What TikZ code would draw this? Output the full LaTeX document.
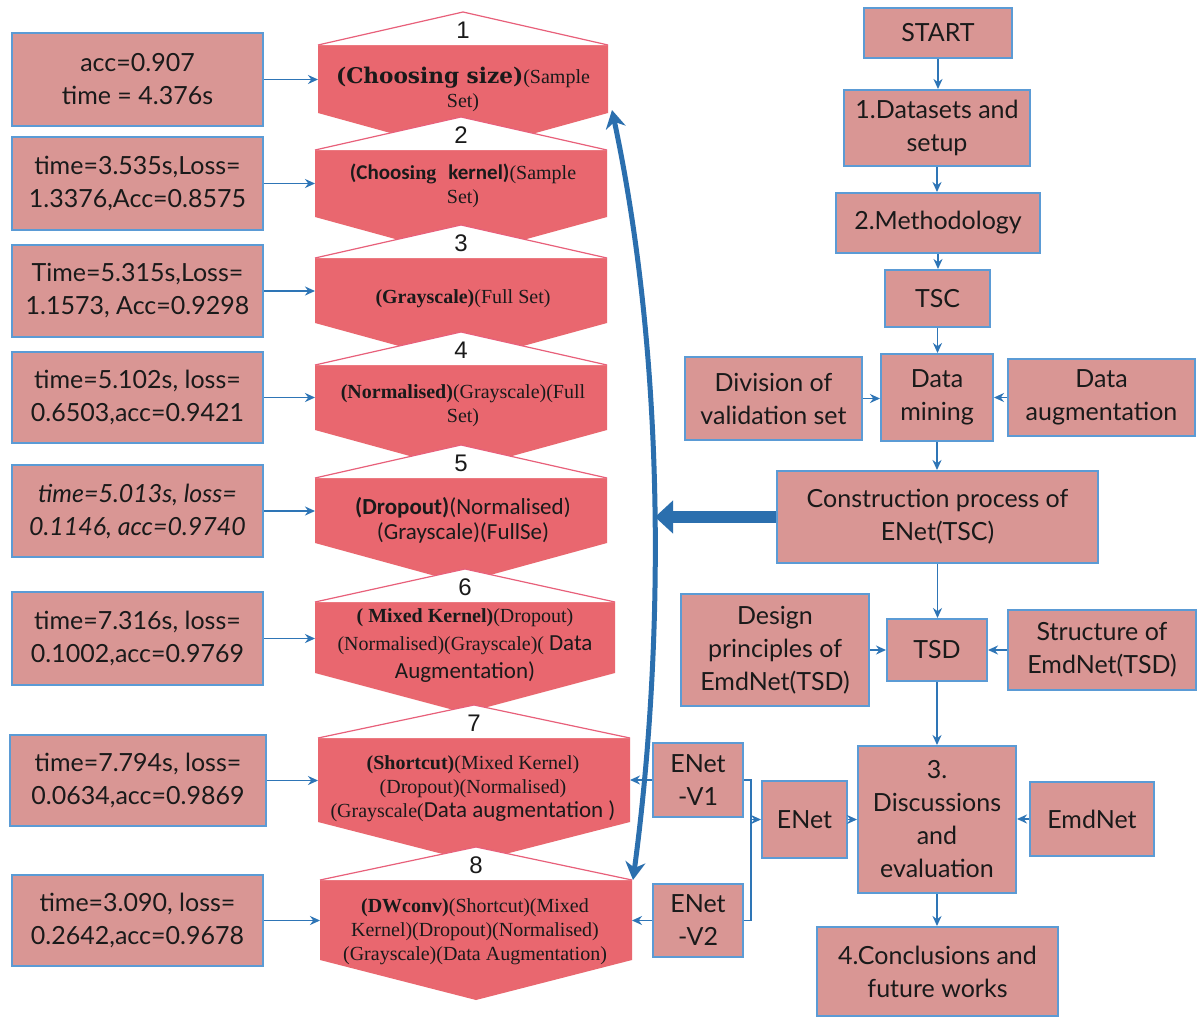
\documentclass[tikz,border=0pt]{standalone}
\usepackage{fontspec}
\setmainfont{Liberation Serif}
\newfontfamily\lato{Lato}
\newfontfamily\carl{Carlito}
\newfontfamily\djs{DejaVu Serif}
\newfontfamily\arialf{Liberation Sans}
\usetikzlibrary{arrows.meta,calc}
\definecolor{boxfill}{HTML}{D99694}
\definecolor{boxline}{HTML}{5B9BD5}
\definecolor{conncol}{HTML}{2E75B6}
\definecolor{bigblue}{HTML}{2B6FAE}
\definecolor{chevfill}{HTML}{E9676F}
\definecolor{chevline}{HTML}{E8607A}
\definecolor{txt}{HTML}{1A1A1A}
\tikzset{
  box/.style={draw=boxline, line width=1pt, fill=boxfill, inner sep=0pt, align=center, text=txt, font=\lato\fontsize{12.5}{16.5}\selectfont},
  rbox/.style n args={4}{minimum width={(#3-#1)*0.5pt}, minimum height={(#4-#2)*0.5pt}, at={({(#1+#3)/2},{(#2+#4)/2})}},
  area/.style n args={4}{inner sep=0pt, outer sep=0pt, minimum width={(#3-#1)*0.5pt}, minimum height={(#4-#2)*0.5pt}, at={({(#1+#3)/2},{(#2+#4)/2})}},
  conn/.style={draw=conncol, line width=0.8pt, -{Stealth[length=5pt,width=4.5pt]}},
  plainline/.style={draw=conncol, line width=0.8pt},
  chev/.style={fill=chevfill},
  tri/.style={fill=white, draw=chevline, line width=0.6pt},
  ctext/.style={align=center, text=txt, inner sep=0pt, font=\fontsize{10}{12}\selectfont},
  num/.style={font=\arialf\fontsize{12}{14}\selectfont, text=txt, inner sep=0pt},
  curvy/.style={draw=bigblue, line width=2.5pt, {Stealth[length=9pt,width=10pt]}-{Stealth[length=9pt,width=10pt]}},
  bigarr/.style={draw=bigblue, line width=6pt, -{Triangle[length=9pt,width=16pt]}}
}
\begin{document}
\begin{tikzpicture}[x=0.5pt,y=-0.5pt]
\useasboundingbox (0,0) rectangle (1200,1017);
\fill[white] (0,0) rectangle (1200,1017);

% chevron bodies
\node[area={318}{45}{608}{113}] (c1) {};
\node[area={315}{150}{607}{217}] (c2) {};
\node[area={315}{258}{607}{323}] (c3) {};
\node[area={315}{365}{607}{430}] (c4) {};
\node[area={315}{478}{607}{543}] (c5) {};
\node[area={315}{602}{615}{673}] (c6) {};
\node[area={318}{738}{630}{822}] (c7) {};
\node[area={320}{880}{632}{960}] (c8) {};

\foreach \i in {1,...,8}{
  \fill[chev] (c\i.north west) -- (c\i.north east) -- (c\i.south east) -- ($(c\i.south)+(0,40)$) -- (c\i.south west) -- cycle;
}
\foreach \i in {1,...,8}{
  \filldraw[tri] (c\i.north west) -- ($(c\i.north)+(0,-33)$) -- (c\i.north east);
  \node[num] (n\i) at ($(c\i.north)+(0,-15)$) {\i};
}

% chevron texts
\node[ctext] (t1) at (463,89) {{\djs\bfseries\fontsize{10.8}{12}\selectfont (Choosing size)}(Sample\\Set)};
\node[ctext] (t2) at (463,186) {{\carl\bfseries\fontsize{10.5}{12}\selectfont (Choos}{\bfseries ing}\hspace{6pt}{\carl\bfseries\fontsize{10.5}{12}\selectfont kernel)}(Sample\\Set)};
\node[ctext] (t3) at (463,299) {{\bfseries (Grayscale)}(Full Set)};
\node[ctext] (t4) at (463,406) {{\bfseries (Normalised)}(Grayscale)(Full\\Set)};
\node[ctext, font=\carl\fontsize{11.5}{12.5}\selectfont] (t5) at (463,520) {{\bfseries (Dropout)}(Normalised)\\(Grayscale)(FullSe)};
\node[ctext, font=\fontsize{10}{14}\selectfont] (t6) at (465,646) {{\bfseries ( Mixed Kernel)}(Dropout)\\(Normalised)(Grayscale)( {\carl\fontsize{11.5}{14}\selectfont Data}\\{\carl\fontsize{11.5}{14}\selectfont Augmentation)}};
\node[ctext] (t7) at (473,789) {{\bfseries (Shortcut)}(Mixed Kernel)\\(Dropout)(Normalised)\\(Grayscale({\carl\fontsize{11.5}{12}\selectfont Data augmentation )}};
\node[ctext] (t8) at (475,932) {{\bfseries (DWconv)}(Shortcut)(Mixed\\Kernel)(Dropout)(Normalised)\\(Grayscale)(Data Augmentation)};

% left result boxes
\node[box, rbox={12}{33}{263}{126}] (l1) {acc=0.907\\time = 4.376s};
\node[box, rbox={12}{137}{263}{230}] (l2) {time=3.535s,Loss=\\1.3376,Acc=0.8575};
\node[box, rbox={12}{245}{263}{337}] (l3) {Time=5.315s,Loss=\\1.1573, Acc=0.9298};
\node[box, rbox={12}{352}{263}{443}] (l4) {time=5.102s, loss=\\0.6503,acc=0.9421};
\node[box, rbox={12}{465}{263}{557}, font=\lato\itshape\fontsize{12.5}{16.5}\selectfont] (l5) {time=5.013s, loss=\\0.1146, acc=0.9740};
\node[box, rbox={12}{592}{263}{685}] (l6) {time=7.316s, loss=\\0.1002,acc=0.9769};
\node[box, rbox={10}{735}{266}{826}] (l7) {time=7.794s, loss=\\0.0634,acc=0.9869};
\node[box, rbox={12}{875}{263}{966}] (l8) {time=3.090, loss=\\0.2642,acc=0.9678};
\foreach \i in {1,...,8}{
  \draw[conn] (l\i.east) -- (l\i.east -| c\i.west);
}

% right flow
\node[box, rbox={864}{8}{1012}{58}] (start) {START};
\node[box, rbox={844}{90}{1030}{166}] (d1) {1.Datasets and\\setup};
\node[box, rbox={836}{193}{1040}{253}] (meth) {2.Methodology};
\node[box, rbox={885}{270}{990}{327}] (tsc) {TSC};
\node[box, rbox={685}{357}{862}{440}] (div) {Division of\\validation set};
\node[box, rbox={881}{354}{993}{441}] (dm) {Data\\mining};
\node[box, rbox={1008}{359}{1195}{436}] (aug) {Data\\augmentation};
\node[box, rbox={777}{471}{1098}{563}] (cons) {Construction process of\\ENet(TSC)};
\node[box, rbox={681}{594}{869}{706}] (des) {Design\\principles of\\EmdNet(TSD)};
\node[box, rbox={887}{619}{987}{681}] (tsd) {TSD};
\node[box, rbox={1008}{610}{1196}{690}] (str) {Structure of\\EmdNet(TSD)};
\node[box, rbox={858}{746}{1016}{893}] (disc) {3.\\Discussions\\and\\evaluation};
\node[box, rbox={1030}{782}{1154}{856}] (emd) {EmdNet};
\node[box, rbox={762}{781}{847}{858}] (enet) {ENet};
\node[box, rbox={653}{743}{743}{817}] (v1) {ENet\\-V1};
\node[box, rbox={653}{884}{743}{957}] (v2) {ENet\\-V2};
\node[box, rbox={817}{927}{1058}{1016}] (concl) {4.Conclusions and\\future works};

\draw[conn] (start.south) -- (start.south |- d1.north);
\draw[conn] (d1.south) -- (d1.south |- meth.north);
\draw[conn] (meth.south) -- (meth.south |- tsc.north);
\draw[conn] (tsc.south) -- (tsc.south |- dm.north);
\draw[conn] (div.east) -- (div.east -| dm.west);
\draw[conn] (aug.west) -- (aug.west -| dm.east);
\draw[conn] (dm.south) -- (dm.south |- cons.north);
\draw[conn] (cons.south) -- (cons.south |- tsd.north);
\draw[conn] (des.east |- tsd.west) -- (tsd.west);
\draw[conn] (str.west |- tsd.east) -- (tsd.east);
\draw[conn] (tsd.south) -- (tsd.south |- disc.north);
\draw[conn] (disc.south) -- (disc.south |- concl.north);
\draw[conn] (enet.east) -- (enet.east -| disc.west);
\draw[conn] (emd.west) -- (emd.west -| disc.east);
\coordinate (br) at (751,819);
\draw[plainline] (v1.east) -- (v1.east -| br) -- (v2.east -| br) -- (v2.east);
\draw[conn] (br |- enet.west) -- (enet.west);
\draw[conn] (v1.west) -- (v1.west -| c7.east);
\draw[conn] (v2.west) -- (v2.west -| c8.east);

% big arrows
\coordinate (bigtip) at (655,517);
\draw[bigarr] (cons.west) -- (cons.west -| bigtip);
\coordinate (ctop) at (612,110);
\coordinate (cbot) at (633,880);
\draw[curvy] (ctop) .. controls (665,360) and (665,640) .. (cbot);
\end{tikzpicture}
\end{document}
